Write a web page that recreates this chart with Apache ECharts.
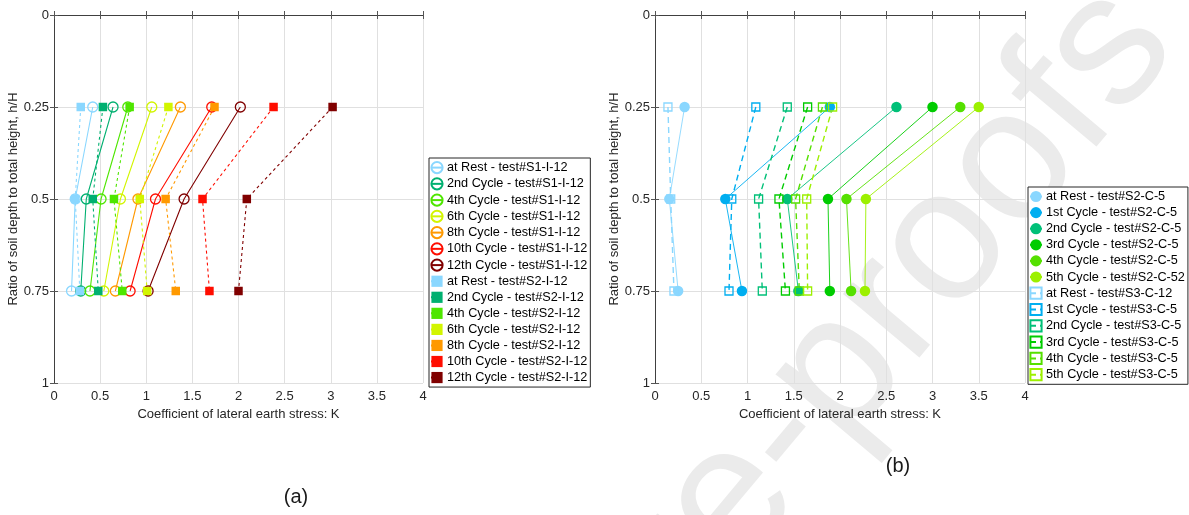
<!DOCTYPE html>
<html><head><meta charset="utf-8">
<script src="https://cdn.jsdelivr.net/npm/echarts@6/dist/echarts.min.js"></script>
<style>html,body{margin:0;padding:0;background:#fff}#c{width:1189px;height:515px}</style>
</head><body><div id="c"></div>
<script>
// ---- shared ----
const depths = [0.25, 0.5, 0.75];

// ---- panel (a): test#S1-I-12 (hollow circles, solid) ----
const s1Names = ['at Rest - test#S1-I-12','2nd Cycle - test#S1-I-12','4th Cycle - test#S1-I-12','6th Cycle - test#S1-I-12','8th Cycle - test#S1-I-12','10th Cycle - test#S1-I-12','12th Cycle - test#S1-I-12'];
const s1Rest = [0.42, 0.23, 0.19];
const s1C2   = [0.64, 0.35, 0.29];
const s1C4   = [0.80, 0.51, 0.39];
const s1C6   = [1.06, 0.72, 0.54];
const s1C8   = [1.37, 0.91, 0.665];
const s1C10  = [1.71, 1.10, 0.825];
const s1C12  = [2.02, 1.41, 1.02];
// ---- panel (a): test#S2-I-12 (filled squares, dashed) ----
const s2Names = ['at Rest - test#S2-I-12','2nd Cycle - test#S2-I-12','4th Cycle - test#S2-I-12','6th Cycle - test#S2-I-12','8th Cycle - test#S2-I-12','10th Cycle - test#S2-I-12','12th Cycle - test#S2-I-12'];
const s2Rest = [0.29, 0.23, 0.28];
const s2C2   = [0.53, 0.42, 0.48];
const s2C4   = [0.82, 0.65, 0.74];
const s2C6   = [1.24, 0.93, 1.01];
const s2C8   = [1.74, 1.21, 1.32];
const s2C10  = [2.38, 1.61, 1.685];
const s2C12  = [3.02, 2.09, 2.00];
const aColors = ['#8ad7ff','#00b070','#4ee600','#d2f500','#ff9900','#ff0d00','#800000'];

// ---- panel (b): test#S2-C-5 (filled circles, solid) ----
const c5Names = ['at Rest - test#S2-C-5','1st Cycle - test#S2-C-5','2nd Cycle - test#S2-C-5','3rd Cycle - test#S2-C-5','4th Cycle - test#S2-C-5','5th Cycle - test#S2-C-52'];
const c5Rest = [0.32, 0.155, 0.25];
const c5C1   = [1.89, 0.76, 0.94];
const c5C2   = [2.61, 1.43, 1.55];
const c5C3   = [3.00, 1.87, 1.89];
const c5C4   = [3.30, 2.07, 2.12];
const c5C5   = [3.50, 2.28, 2.27];
// ---- panel (b): test#S3-C (hollow squares, dashed) ----
const s3Names = ['at Rest - test#S3-C-12','1st Cycle - test#S3-C-5','2nd Cycle - test#S3-C-5','3rd Cycle - test#S3-C-5','4th Cycle - test#S3-C-5','5th Cycle - test#S3-C-5'];
const s3Rest = [0.14, 0.17, 0.205];
const s3C1   = [1.09, 0.83, 0.80];
const s3C2   = [1.43, 1.12, 1.16];
const s3C3   = [1.65, 1.34, 1.41];
const s3C4   = [1.81, 1.52, 1.56];
const s3C5   = [1.92, 1.64, 1.65];
const bColors = ['#8ad7ff','#00aef0','#00c078','#00cc00','#55e000','#9cf000'];

const FONT = 'Liberation Sans, Arial, sans-serif';
const AX = '#404040';
const TXT = '#262626';

function mk(name, vals, color, kind, gi) {
  const data = vals.map((v, i) => [v, depths[i]]);
  const s = {
    type: 'line', name, data,
    xAxisIndex: gi * 2, yAxisIndex: gi * 2,
    symbolSize: 10, z: 3,
    lineStyle: { color, width: 1.1, type: 'solid' },
    itemStyle: { color },
    emphasis: { disabled: true }
  };
  if (kind === 'hollowCircle') {
    s.symbol = 'circle'; s.symbolSize = 10;
    s.itemStyle = { color: 'rgba(255,255,255,0)', borderColor: color, borderWidth: 1.3 };
  } else if (kind === 'filledSquare') {
    s.symbol = 'rect'; s.symbolSize = 8.5;
    s.lineStyle.type = [3, 3];
  } else if (kind === 'filledCircle') {
    s.symbol = 'circle'; s.symbolSize = 10.5; s.lineStyle.width = 0.9;
  } else if (kind === 'hollowSquare') {
    s.symbol = 'rect'; s.symbolSize = 8;
    s.lineStyle.type = [6, 4]; s.lineStyle.width = 1.4;
    s.itemStyle = { color: 'rgba(255,255,255,0)', borderColor: color, borderWidth: 1.3 };
  }
  return s;
}

const series = [];
[s1Rest, s1C2, s1C4, s1C6, s1C8, s1C10, s1C12].forEach((v, i) => series.push(mk(s1Names[i], v, aColors[i], 'hollowCircle', 0)));
[s2Rest, s2C2, s2C4, s2C6, s2C8, s2C10, s2C12].forEach((v, i) => series.push(mk(s2Names[i], v, aColors[i], 'filledSquare', 0)));
[c5Rest, c5C1, c5C2, c5C3, c5C4, c5C5].forEach((v, i) => series.push(mk(c5Names[i], v, bColors[i], 'filledCircle', 1)));
[s3Rest, s3C1, s3C2, s3C3, s3C4, s3C5].forEach((v, i) => series.push(mk(s3Names[i], v, bColors[i], 'hollowSquare', 1)));

const tick = { show: true, inside: true, length: 4, lineStyle: { color: '#555' } };
const line = { show: true, lineStyle: { color: AX, width: 1 } };
const split = { show: true, lineStyle: { color: '#e0e0e0', width: 1 } };
const lab = { color: TXT, fontSize: 13, fontFamily: FONT };

function xAxes(gi) {
  return [
    { gridIndex: gi, type: 'value', min: 0, max: 4, interval: 0.5, position: 'bottom',
      axisLine: line, axisTick: tick, splitLine: split,
      axisLabel: Object.assign({ margin: 7 }, lab),
      name: 'Coefficient of lateral earth stress: K', nameLocation: 'middle', nameGap: 24,
      nameTextStyle: { color: TXT, fontSize: 13, fontFamily: FONT } },
    { gridIndex: gi, type: 'value', min: 0, max: 4, interval: 0.5, position: 'top',
      axisLine: line, axisTick: tick, splitLine: { show: false }, axisLabel: { show: false } }
  ];
}
function yAxes(gi) {
  return [
    { gridIndex: gi, type: 'value', min: 0, max: 1, interval: 0.25, inverse: true, position: 'left',
      axisLine: line, axisTick: tick, splitLine: split,
      axisLabel: Object.assign({ margin: 5 }, lab),
      name: 'Ratio of soil depth to total height, h/H', nameLocation: 'middle', nameGap: 28,
      nameTextStyle: { color: TXT, fontSize: 13, fontFamily: FONT } },
    { gridIndex: gi, type: 'value', min: 0, max: 1, interval: 0.25, inverse: true, position: 'right',
      axisLine: line, axisTick: tick, splitLine: { show: false }, axisLabel: { show: false } }
  ];
}

const legendBase = {
  orient: 'vertical', selectedMode: false,
  backgroundColor: '#fff', borderColor: '#262626', borderWidth: 1,
  itemWidth: 12, itemHeight: 14,
  textStyle: { color: '#000', fontSize: 12.7, fontFamily: FONT, padding: [0, 0, 0, -1] }
};

const chart = echarts.init(document.getElementById('c'), null, { renderer: 'canvas' });
chart.setOption({
  animation: false,
  backgroundColor: '#fff',
  grid: [
    { left: 54, top: 15, width: 369, height: 368 },
    { left: 655, top: 15, width: 370, height: 368 }
  ],
  xAxis: [...xAxes(0), ...xAxes(1)],
  yAxis: [...yAxes(0), ...yAxes(1)],
  legend: [
    Object.assign({}, legendBase, { left: 429, top: 158, itemGap: 3.05, padding: [3, 3, 3, 1], data: [...s1Names, ...s2Names] }),
    Object.assign({}, legendBase, { left: 1028, top: 187, itemGap: 3.1, padding: [3, 3, 3, 1], data: [...c5Names, ...s3Names] })
  ],
  graphic: [
    { type: 'text', z: -10, x: 1140, y: 14, rotation: 50 * Math.PI / 180, silent: true,
      style: { text: 'Journal Pre-proofs', x: 0, y: 0, textAlign: 'right', textVerticalAlign: 'middle',
               fill: '#ebebeb', fontSize: 188, fontFamily: FONT } },
    { type: 'text', x: 296, y: 497, silent: true,
      style: { text: '(a)', textAlign: 'center', textVerticalAlign: 'middle', fill: '#1a1a1a', fontSize: 20, fontFamily: FONT } },
    { type: 'text', x: 898, y: 466, silent: true,
      style: { text: '(b)', textAlign: 'center', textVerticalAlign: 'middle', fill: '#1a1a1a', fontSize: 20, fontFamily: FONT } }
  ],
  series
});
</script></body></html>
